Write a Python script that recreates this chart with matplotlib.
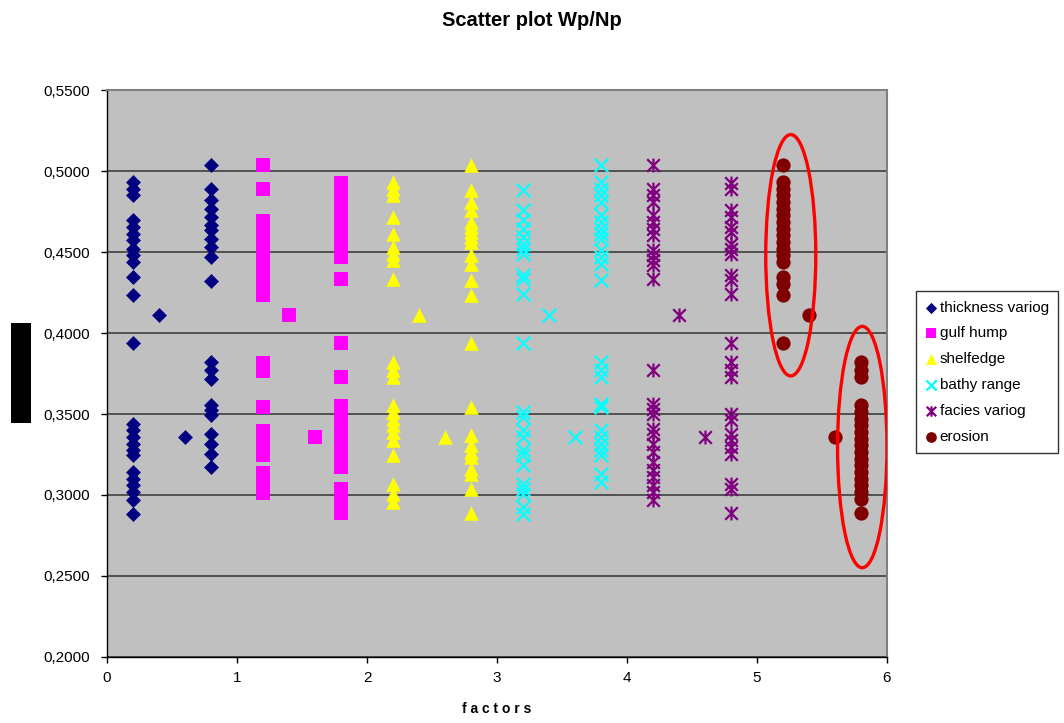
import matplotlib
matplotlib.use("Agg")
import matplotlib.pyplot as plt
from matplotlib.path import Path
from matplotlib.patches import Ellipse, Rectangle
from matplotlib.ticker import FuncFormatter, MultipleLocator

plt.rcParams["font.family"] = ["Liberation Sans", "DejaVu Sans"]

# ---- data -------------------------------------------------------------
# factor column positions (low / high) and the two base-case points
low_offset, high_offset = 0.2, 0.8
base_up_offset, base_dn_offset = 0.4, 0.6
base_up_value, base_dn_value = 0.4114, 0.3358

series_names = ["thickness variog", "gulf hump", "shelfedge",
                "bathy range", "facies variog", "erosion"]

thickness_low = [0.4932, 0.4891, 0.4850, 0.4696, 0.4654, 0.4613, 0.4572,
                 0.4521, 0.4480, 0.4438, 0.4346, 0.4233, 0.3938,
                 0.3440, 0.3400, 0.3358, 0.3317, 0.3276, 0.3245,
                 0.3142, 0.3101, 0.3060, 0.3019, 0.2967, 0.2885]
thickness_high = [0.5035, 0.4890, 0.4820, 0.4768, 0.4717, 0.4665, 0.4634,
                  0.4583, 0.4531, 0.4470, 0.4320,
                  0.3820, 0.3770, 0.3718, 0.3554, 0.3523, 0.3492,
                  0.3379, 0.3317, 0.3255, 0.3173]

gulf_low = [0.5035, 0.4887, 0.4690, 0.4650, 0.4610, 0.4570, 0.4530,
            0.4490, 0.4450, 0.4410, 0.4370, 0.4320, 0.4280, 0.4235,
            0.3813, 0.3765, 0.3543, 0.3393, 0.3350, 0.3300, 0.3247,
            0.3134, 0.3090, 0.3050, 0.3012]
gulf_high = [0.4924, 0.4880, 0.4840, 0.4800, 0.4760, 0.4720, 0.4680,
             0.4640, 0.4600, 0.4560, 0.4510, 0.4470, 0.4334,
             0.3938, 0.3728, 0.3552, 0.3510, 0.3470, 0.3420, 0.3380,
             0.3340, 0.3300, 0.3250, 0.3210, 0.3171,
             0.3035, 0.2990, 0.2930, 0.2887]

shelf_low = [0.4932, 0.4891, 0.4850, 0.4716, 0.4614, 0.4531, 0.4490,
             0.4449, 0.4336, 0.3820, 0.3770, 0.3728, 0.3554, 0.3512,
             0.3472, 0.3430, 0.3390, 0.3338, 0.3245, 0.3070, 0.3009,
             0.2957]
shelf_high = [0.5035, 0.4885, 0.4809, 0.4757, 0.4685, 0.4654, 0.4623,
              0.4593, 0.4562, 0.4480, 0.4428, 0.4325, 0.4233, 0.3940,
              0.3543, 0.3369, 0.3307, 0.3266, 0.3235, 0.3163, 0.3132,
              0.3040, 0.2889]

bathy_low = [0.4885, 0.4757, 0.4696, 0.4644, 0.4593, 0.4552, 0.4521,
             0.4490, 0.4356, 0.4336, 0.4240, 0.3940, 0.3512, 0.3481,
             0.3400, 0.3358, 0.3276, 0.3245, 0.3183, 0.3070, 0.3040,
             0.3009, 0.2926, 0.2885]
bathy_high = [0.5040, 0.4932, 0.4891, 0.4850, 0.4809, 0.4727, 0.4685,
              0.4644, 0.4614, 0.4583, 0.4510, 0.4470, 0.4428, 0.4325,
              0.3820, 0.3770, 0.3728, 0.3564, 0.3543, 0.3400, 0.3358,
              0.3317, 0.3276, 0.3245, 0.3132, 0.3080]

facies_low = [0.5040, 0.4891, 0.4850, 0.4809, 0.4727, 0.4685, 0.4644,
              0.4603, 0.4510, 0.4480, 0.4449, 0.4418, 0.4336, 0.3770,
              0.3564, 0.3533, 0.3502, 0.3410, 0.3379, 0.3317, 0.3266,
              0.3204, 0.3153, 0.3111, 0.3060, 0.3019, 0.2967]
facies_high = [0.4926, 0.4891, 0.4757, 0.4716, 0.4654, 0.4623, 0.4552,
               0.4521, 0.4490, 0.4356, 0.4325, 0.4240, 0.3940, 0.3820,
               0.3770, 0.3728, 0.3502, 0.3460, 0.3379, 0.3338, 0.3296,
               0.3255, 0.3070, 0.3040, 0.2889]

erosion_low = [0.5040, 0.4932, 0.4891, 0.4850, 0.4809, 0.4768, 0.4727,
               0.4685, 0.4644, 0.4603, 0.4562, 0.4521, 0.4480, 0.4438,
               0.4346, 0.4305, 0.4237, 0.3940]
erosion_high = [0.3820, 0.3770, 0.3728, 0.3554, 0.3512, 0.3472, 0.3430,
                0.3390, 0.3348, 0.3307, 0.3266, 0.3225, 0.3183, 0.3142,
                0.3101, 0.3060, 0.3019, 0.2978, 0.2889]

series_low = [thickness_low, gulf_low, shelf_low, bathy_low, facies_low, erosion_low]
series_high = [thickness_high, gulf_high, shelf_high, bathy_high, facies_high, erosion_high]

# highlighted clusters: (x centre, y centre, width, height)
highlight_upper = (5.26, 0.448, 0.385, 0.149)
highlight_lower = (5.81, 0.3296, 0.38, 0.149)

# ---- styles -----------------------------------------------------------
asterisk = Path(
    [(-0.5, -0.5), (0.5, 0.5), (-0.5, 0.5), (0.5, -0.5), (0.0, -0.55), (0.0, 0.55)],
    [Path.MOVETO, Path.LINETO, Path.MOVETO, Path.LINETO, Path.MOVETO, Path.LINETO],
)
styles = [
    dict(marker="D", color="#000080", s=58, lw=0),
    dict(marker="s", color="#FF00FF", s=100, lw=0),
    dict(marker="^", color="#FFFF00", s=110, lw=0),
    dict(marker="x", color="#00FFFF", s=95, lw=1.6),
    dict(marker=asterisk, color="#800080", s=100, lw=1.6),
    dict(marker="o", color="#800000", s=105, lw=0),
]

# ---- figure -----------------------------------------------------------
fig = plt.figure(figsize=(10.64, 7.23), dpi=100)
ax = fig.add_axes([0.1006, 0.0913, 0.7330, 0.7842])
ax.set_facecolor("#C0C0C0")

for k, (name, lo, hi, st) in enumerate(zip(series_names, series_low, series_high, styles)):
    xs = ([k + low_offset] * len(lo) + [k + high_offset] * len(hi)
          + [k + base_up_offset, k + base_dn_offset])
    ys = list(lo) + list(hi) + [base_up_value, base_dn_value]
    ax.scatter(xs, ys, marker=st["marker"], s=st["s"], color=st["color"],
               linewidths=st["lw"], label=name, zorder=3 + k * 0.01)

for cx, cy, w, h in (highlight_upper, highlight_lower):
    ax.add_patch(Ellipse((cx, cy), w, h, fill=False, edgecolor="#FF0000",
                         linewidth=2.4, zorder=5))

ax.set_xlim(0, 6)
ax.set_ylim(0.2, 0.55)
ax.xaxis.set_major_locator(MultipleLocator(1))
ax.yaxis.set_major_locator(MultipleLocator(0.05))
ax.yaxis.set_major_formatter(FuncFormatter(lambda v, p: f"{v:.4f}".replace(".", ",")))
ax.grid(axis="y", color="#333333", linewidth=1.1, zorder=1)
ax.set_axisbelow(True)
ax.tick_params(axis="both", direction="out", length=4, width=1, labelsize=11,
               colors="black")
ax.tick_params(axis="y", pad=8)
ax.tick_params(axis="x", pad=6)

for side in ("top", "right"):
    ax.spines[side].set_color("#808080")
    ax.spines[side].set_linewidth(1.5)
for side in ("left", "bottom"):
    ax.spines[side].set_color("black")
    ax.spines[side].set_linewidth(1)

ax.set_xlabel("f a c t o r s", fontsize=10, fontweight="bold", labelpad=12)
fig.text(0.5, 0.971, "Scatter plot Wp/Np", ha="center", va="center",
         fontsize=14.5, fontweight="bold")

# block standing in for the vertical axis caption
fig.patches.append(Rectangle((11 / 1064, 1 - 423 / 723), 20 / 1064, 100 / 723,
                             transform=fig.transFigure, facecolor="black",
                             edgecolor="none"))

leg = fig.legend(loc="upper left", bbox_to_anchor=(0.861, 0.597),
                 frameon=True, fancybox=False, fontsize=11, markerscale=0.75,
                 handletextpad=0.15, handlelength=0.8, borderpad=0.6,
                 labelspacing=0.78, borderaxespad=0)
leg.get_frame().set_edgecolor("black")
leg.get_frame().set_linewidth(1)

fig.savefig("out.png", dpi=100)
